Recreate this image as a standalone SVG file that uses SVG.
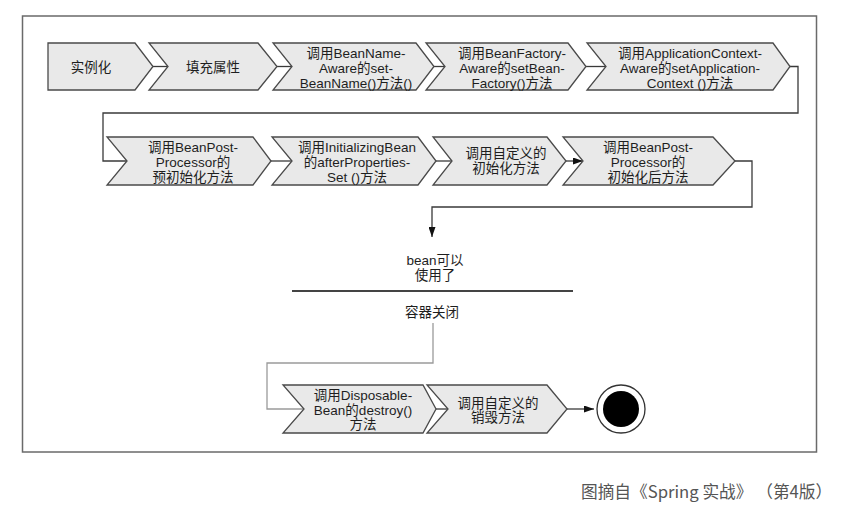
<svg xmlns="http://www.w3.org/2000/svg" width="842" height="516" viewBox="0 0 842 516">
<defs>
<style>
.node polygon{fill:#e9e9e9;stroke:#4a4a4a;stroke-width:1.3}
.t{font-family:"Liberation Sans","Noto Sans CJK SC",sans-serif;font-size:13.5px;fill:#1e1e1e;text-anchor:middle}
.conn path{fill:none;stroke:#3a3a3a;stroke-width:1.3}
.conn .light{stroke:#9a9a9a}
.cap{font-family:"Noto Sans CJK SC","Noto Sans",sans-serif;font-size:16.7px;fill:#555;text-spacing-trim:space-all}
</style>
<marker id="ah" viewBox="0 0 10 10" refX="10" refY="5" markerWidth="10" markerHeight="7" markerUnits="userSpaceOnUse" orient="auto" preserveAspectRatio="none">
<path d="M0,0 L10,5 L0,10 Z" fill="#111"/>
</marker>
</defs>
<rect x="0" y="0" width="842" height="516" fill="#ffffff"/>
<rect x="22.5" y="16" width="794" height="436" fill="none" stroke="#6a6a6a" stroke-width="1.5"/>

<g class="conn">
<path d="M153,66.5 H168"/>
<path d="M277,66.5 H292"/>
<path d="M434,66.5 H445"/>
<path d="M586,66.5 H606"/>
<path d="M790,66.5 H798 V113 H103 V161 H127"/>
<path d="M271,161 H292"/>
<path d="M436,161 H452"/>
<path d="M566,161 H583" marker-end="url(#ah)"/>
<path d="M735,161 H752 V207 H432 V237" marker-end="url(#ah)"/>
<path class="light" d="M433,323 V363 H267 V409 H304"/>
<path d="M436,409 H448"/>
<path d="M567,409 H594" marker-end="url(#ah)"/>
</g>

<g id="n1" class="node">
<polygon points="48,43 135,43 153,66.5 135,90 48,90"/>
<text class="t" x="91" y="72">实例化</text>
</g>
<g id="n2" class="node">
<polygon points="149,43 258,43 277,66.5 258,90 149,90 168,66.5"/>
<text class="t" x="213" y="72">填充属性</text>
</g>
<g id="n3" class="node">
<polygon points="273,43 416,43 434,66.5 416,90 273,90 292,66.5"/>
<text class="t" x="356" y="58">调用BeanName-</text>
<text class="t" x="356" y="73">Aware的set-</text>
<text class="t" x="356" y="88">BeanName()方法()</text>
</g>
<g id="n4" class="node">
<polygon points="426,43 568,43 586,66.5 568,90 426,90 445,66.5"/>
<text class="t" x="512" y="58">调用BeanFactory-</text>
<text class="t" x="512" y="73">Aware的setBean-</text>
<text class="t" x="512" y="88">Factory()方法</text>
</g>
<g id="n5" class="node">
<polygon points="587,43 773,43 790,66.5 773,90 587,90 606,66.5"/>
<text class="t" x="690" y="58">调用ApplicationContext-</text>
<text class="t" x="690" y="73">Aware的setApplication-</text>
<text class="t" x="690" y="88">Context ()方法</text>
</g>

<g id="n6" class="node">
<polygon points="107,137 253,137 271,161 253,185 107,185 127,161"/>
<text class="t" x="193" y="152">调用BeanPost-</text>
<text class="t" x="193" y="167">Processor的</text>
<text class="t" x="193" y="182">预初始化方法</text>
</g>
<g id="n7" class="node">
<polygon points="272,137 418,137 436,161 418,185 272,185 292,161"/>
<text class="t" x="357" y="152">调用InitializingBean</text>
<text class="t" x="357" y="167">的afterProperties-</text>
<text class="t" x="357" y="182">Set ()方法</text>
</g>
<g id="n8" class="node">
<polygon points="433,137 547,137 566,161 547,185 433,185 452,161"/>
<text class="t" x="506" y="158">调用自定义的</text>
<text class="t" x="506" y="173">初始化方法</text>
</g>
<g id="n9" class="node">
<polygon points="563,137 713,137 735,161 713,185 563,185 583,161"/>
<text class="t" x="648" y="152">调用BeanPost-</text>
<text class="t" x="648" y="167">Processor的</text>
<text class="t" x="648" y="182">初始化后方法</text>
</g>

<g id="ready">
<text class="t" x="435" y="265">bean可以</text>
<text class="t" x="435" y="280">使用了</text>
<line x1="292" y1="291" x2="573" y2="291" stroke="#444" stroke-width="2"/>
<text class="t" x="432" y="317">容器关闭</text>
</g>

<g id="n10" class="node">
<polygon points="283,385 423,385 436,409 423,433 283,433 304,409"/>
<text class="t" x="363" y="400">调用Disposable-</text>
<text class="t" x="363" y="415">Bean的destroy()</text>
<text class="t" x="363" y="429">方法</text>
</g>
<g id="n11" class="node">
<polygon points="427,385 547,385 567,409 547,433 427,433 448,409"/>
<text class="t" x="498" y="408">调用自定义的</text>
<text class="t" x="498" y="422">销毁方法</text>
</g>

<g id="end">
<circle cx="621" cy="409" r="24" fill="#ffffff" stroke="#333" stroke-width="1.3"/>
<circle cx="621" cy="409" r="18" fill="#000"/>
</g>

<text class="cap" x="581" y="498">图摘自《Spring 实战》 （第4版）</text>
</svg>
